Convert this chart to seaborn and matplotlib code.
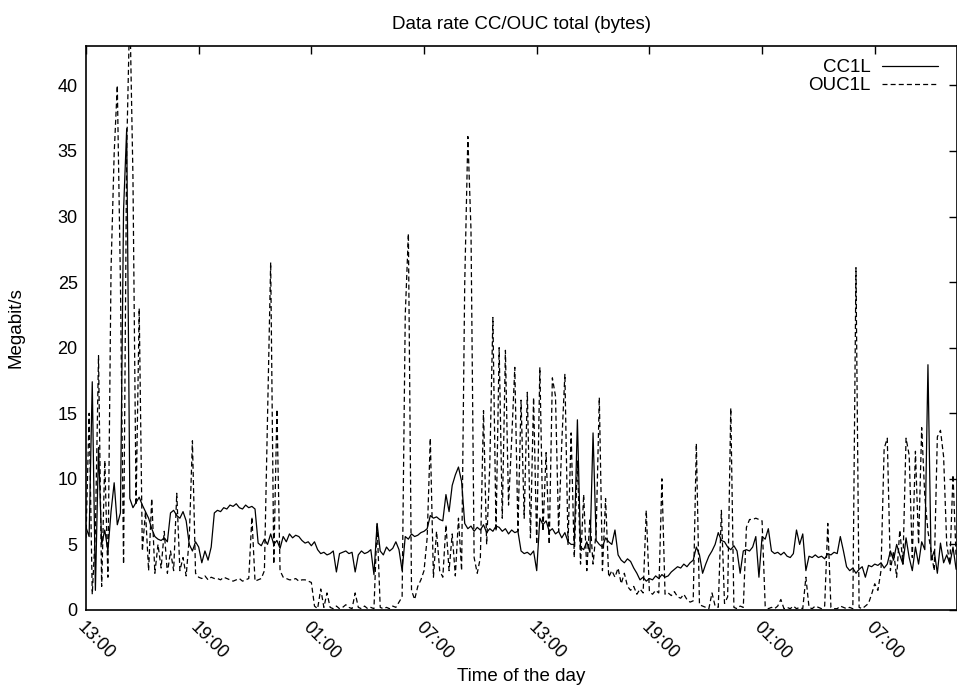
import numpy as np
import pandas as pd
import matplotlib
matplotlib.use("Agg")
import matplotlib.pyplot as plt
import seaborn as sns

# samples every 10 minutes starting 13:00, one row per hour
cc1l = [
    6.3, 5.6, 17.4, 1.5, 12.4, 5.0,
    6.1, 4.5, 7.5, 9.7, 6.5, 7.4,
    30.5, 36.7, 8.5, 7.8, 8.2, 8.6,
    8.0, 7.5, 7.0, 6.2, 5.6, 5.4,
    5.3, 5.5, 5.2, 7.4, 7.6, 7.2,
    7.0, 7.5, 6.8, 5.0, 4.5, 5.2,
    4.8, 3.6, 4.5, 3.8, 4.8, 7.4,
    7.6, 7.5, 7.8, 7.7, 8.0, 7.9,
    8.1, 7.8, 7.7, 8.0, 7.8, 7.9,
    7.7, 5.1, 4.9, 5.4, 5.0, 5.8,
    5.0, 5.3, 4.7, 5.6, 5.2, 5.8,
    5.5, 5.7, 5.6, 5.3, 5.1, 5.2,
    4.9, 5.2, 4.6, 4.3, 4.4, 4.2,
    4.3, 4.5, 2.9, 4.3, 4.4, 4.5,
    4.3, 4.4, 2.9, 4.2, 4.5, 4.3,
    4.4, 4.6, 2.7, 6.6, 4.5, 4.2,
    4.8, 4.5, 4.7, 5.2, 4.6, 3.0,
    5.6, 5.4, 5.8, 5.6, 5.7, 5.9,
    6.0, 6.2, 7.2, 7.0, 7.1, 6.9,
    6.8, 8.8, 7.5, 9.5, 10.3, 10.9,
    9.8, 6.6, 6.2, 6.4, 6.0, 6.3,
    6.1, 6.5, 5.9, 6.2, 6.0, 6.4,
    6.3, 6.0, 6.2, 5.8, 6.1, 5.9,
    6.0, 4.5, 4.3, 4.4, 4.2, 4.5,
    3.0, 7.0, 6.5, 6.8, 6.0, 6.2,
    5.8, 6.0, 5.5, 5.9, 5.2, 5.0,
    5.0, 14.5, 4.8, 4.6, 5.2, 4.4,
    13.5, 5.3, 5.0, 4.8, 5.5, 5.2,
    5.0, 6.1, 4.2, 3.8, 3.6, 3.9,
    3.7, 3.2, 2.8, 2.3, 2.5, 2.2,
    2.4, 2.3, 2.6, 2.4, 2.7, 2.5,
    2.6, 2.9, 3.1, 3.3, 3.2, 3.5,
    3.3, 3.6, 3.8, 4.8, 4.2, 2.8,
    3.5, 4.1, 4.5, 5.0, 5.9, 5.3,
    5.2, 4.8, 4.6, 4.9, 4.5, 2.8,
    4.5, 4.6, 4.5, 4.8, 5.6, 2.5,
    5.6, 5.4, 6.2, 4.5, 4.3, 4.4,
    4.2, 4.4, 4.1, 4.0, 4.3, 6.1,
    5.0, 5.8, 3.0, 4.1, 4.0, 4.2,
    4.0, 4.1, 3.9, 4.3, 4.2, 4.4,
    4.3, 5.6, 4.5, 3.3, 3.0, 3.2,
    2.8, 3.1, 3.3, 2.5, 3.4, 3.3,
    3.5, 3.4, 3.6, 3.2, 3.5, 4.5,
    3.8, 5.0, 4.2, 3.5, 5.5, 4.0,
    3.0, 4.8, 3.5, 5.2, 4.6, 18.7,
    3.8, 4.5, 2.8, 5.1, 3.6, 4.2,
    3.5, 4.8, 3.1,
]

ouc1l = [
    5.5, 15.0, 1.2, 6.0, 19.4, 1.8,
    11.4, 2.5, 26.0, 34.8, 40.0, 25.0,
    3.5, 35.0, 46.0, 33.0, 8.0, 23.0,
    4.5, 7.5, 3.0, 8.5, 2.8, 5.0,
    3.2, 6.0, 2.8, 4.5, 3.0, 8.9,
    3.0, 4.0, 2.6, 5.5, 12.9, 2.8,
    2.5, 2.4, 2.6, 2.3, 2.5, 2.4,
    2.4, 2.3, 2.5, 2.4, 2.3, 2.2,
    2.3, 2.4, 2.2, 2.3, 2.4, 7.1,
    2.2, 2.3, 2.4, 3.0, 14.7, 26.5,
    3.5, 15.3, 3.0, 2.5, 2.4, 2.3,
    2.3, 2.4, 2.2, 2.3, 2.3, 2.2,
    2.1, 0.3, 0.1, 1.6, 0.2, 1.3,
    0.2, 0.1, 0.3, 0.1, 0.2, 0.4,
    0.2, 0.1, 1.3, 0.2, 0.1, 0.3,
    0.1, 0.2, 0.1, 6.6, 0.2, 0.1,
    0.2, 0.1, 0.3, 0.2, 0.6, 1.0,
    22.5, 28.7, 1.5, 0.8, 1.8, 2.3,
    3.0, 5.5, 13.1, 2.5, 6.0, 3.0,
    2.5, 6.5, 3.0, 5.8, 2.6, 7.0,
    3.0, 24.9, 36.1, 29.0, 4.0, 2.8,
    4.0, 15.2, 5.0, 11.0, 22.3, 6.0,
    20.0, 7.0, 19.8, 8.0, 13.0, 18.5,
    6.0, 16.0, 7.0, 16.6, 5.5, 16.2,
    5.0, 18.5, 6.0, 12.0, 5.0, 17.7,
    16.3, 6.0, 12.7, 18.0, 5.0, 13.5,
    4.0, 11.4, 3.5, 8.8, 3.0, 7.0,
    3.5, 6.0, 16.2, 3.0, 8.5, 2.5,
    3.0, 2.5, 3.2, 2.0, 2.8, 1.8,
    1.5, 1.8, 1.2, 1.6, 1.3, 7.6,
    1.4, 1.2, 1.5, 1.3, 10.0, 1.2,
    1.3, 1.1, 1.4, 1.0, 0.9, 1.2,
    0.8, 0.6, 0.7, 12.7, 0.4, 0.3,
    0.2, 0.1, 1.3, 0.3, 0.2, 7.6,
    0.5, 1.0, 15.4, 0.2, 0.1, 0.3,
    0.2, 6.3, 6.9, 6.9, 7.0, 6.9,
    6.8, 0.3, 0.1, 0.2, 0.1, 0.3,
    0.8, 0.1, 0.2, 0.1, 0.3, 0.1,
    0.2, 0.1, 2.5, 0.2, 0.1, 0.3,
    0.2, 0.1, 0.3, 6.6, 0.2, 0.1,
    0.1, 0.3, 0.2, 0.1, 0.2, 0.1,
    26.1, 0.2, 0.1, 0.3, 0.5, 1.2,
    2.0, 1.5, 3.0, 12.3, 13.1, 3.0,
    4.5, 2.5, 6.1, 3.5, 13.1, 11.8,
    4.0, 12.1, 5.0, 13.9, 8.6, 6.0,
    4.5, 3.0, 13.2, 13.7, 11.7, 5.0,
    3.5, 10.3, 4.0,
]

tick_hours = [0, 6, 12, 18, 24, 30, 36, 42]
tick_labels = ["13:00", "19:00", "01:00", "07:00", "13:00", "19:00", "01:00", "07:00"]

hours = np.arange(len(cc1l)) / 6.0
df = pd.DataFrame({"hours": hours, "CC1L": cc1l, "OUC1L": ouc1l})

sns.set_style("white")
plt.rcParams["font.family"] = ["Liberation Sans", "DejaVu Sans"]
plt.rcParams["font.size"] = 13
for key in ["text.color", "axes.labelcolor", "xtick.color", "ytick.color"]:
    plt.rcParams[key] = "black"

fig = plt.figure(figsize=(9.57, 6.91), dpi=100)
ax = fig.add_axes([86 / 957, 1 - 610 / 691, 871 / 957, 564 / 691])

sns.lineplot(data=df, x="hours", y="CC1L", ax=ax, color="black",
             linewidth=0.9, estimator=None, label="CC1L")
sns.lineplot(data=df, x="hours", y="OUC1L", ax=ax, color="black",
             linewidth=0.9, estimator=None, label="OUC1L",
             linestyle=(0, (4, 2.5)))

ax.set_xlim(0, 46.38)
ax.set_ylim(0, 43)
ax.set_xticks(tick_hours)
ax.set_xticklabels(tick_labels, rotation=-45, ha="left", va="top",
                   rotation_mode="anchor")
ax.set_yticks(range(0, 45, 5))
ax.tick_params(direction="in", length=6, width=1, top=True, right=True,
               labelsize=13, pad=6)
for s in ax.spines.values():
    s.set_linewidth(1.2)
    s.set_color("black")

ax.set_title("Data rate CC/OUC total (bytes)", fontsize=13.5, pad=12)
ax.set_xlabel("Time of the day", fontsize=13.5)
ax.set_ylabel("Megabit/s", fontsize=13.5)
ax.xaxis.set_label_coords(0.5, -0.103)
ax.yaxis.set_label_coords(-0.071, 0.5)

handles, labels = ax.get_legend_handles_labels()
ax.legend(handles, labels, loc="upper right", frameon=False,
          markerfirst=False, handlelength=3.0, labelspacing=0.05,
          borderaxespad=0.3, handletextpad=0.6, fontsize=13.5,
          bbox_to_anchor=(0.993, 1.0))

fig.savefig("out.png", dpi=100)
